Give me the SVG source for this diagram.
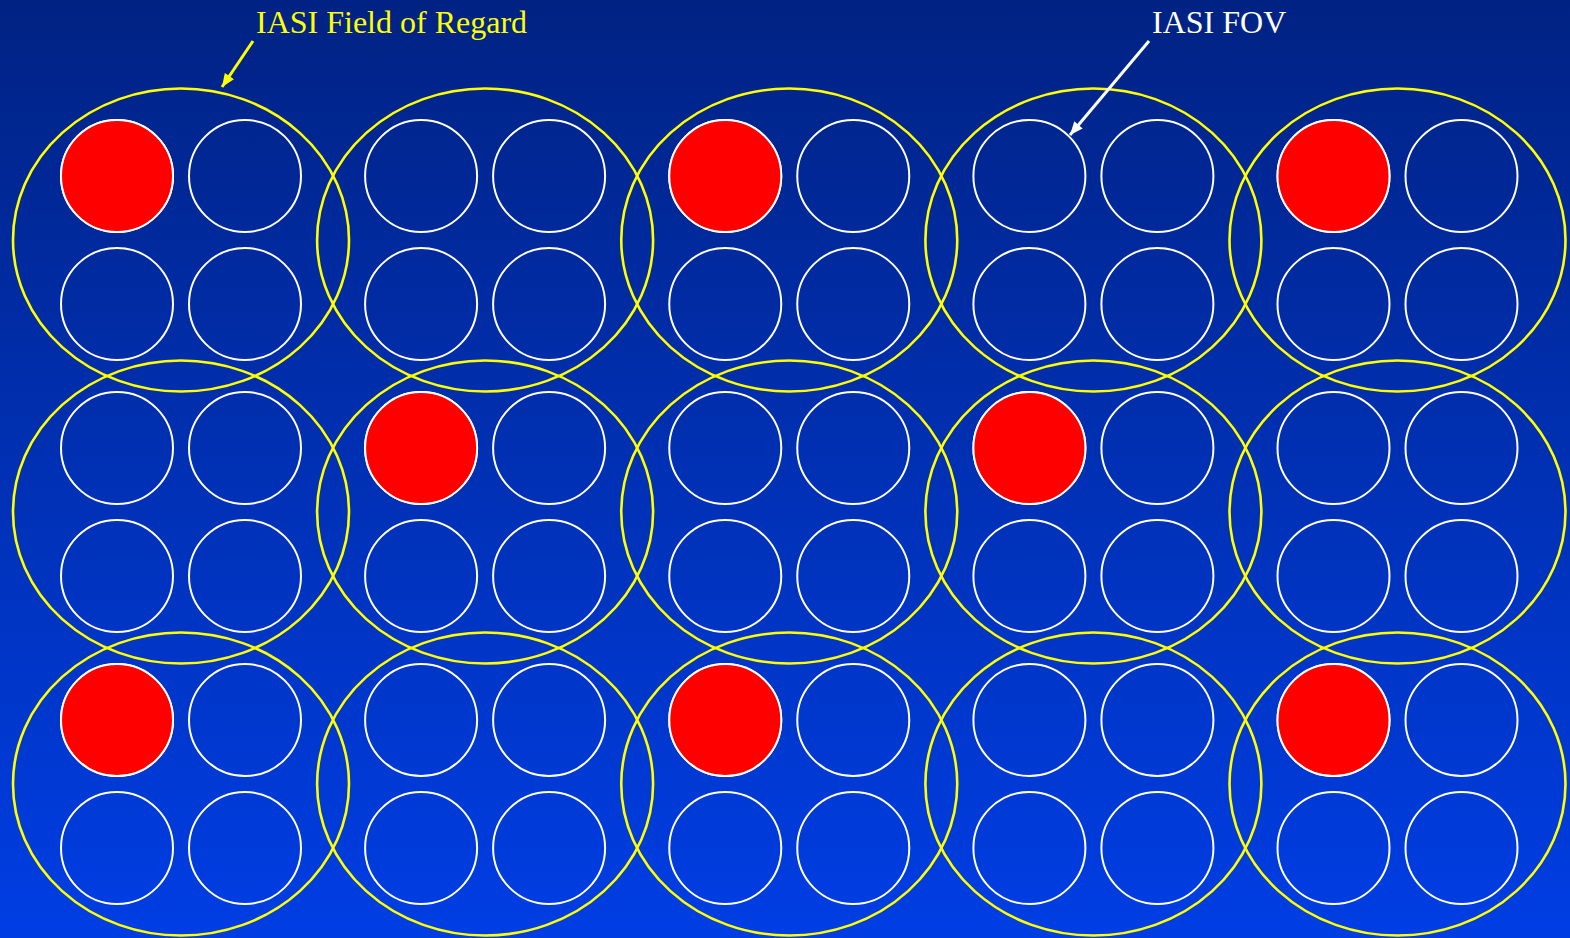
<svg xmlns="http://www.w3.org/2000/svg" width="1570" height="938" viewBox="0 0 1570 938">
<defs>
<linearGradient id="bg" x1="0" y1="0" x2="0" y2="1">
<stop offset="0" stop-color="#002283"/>
<stop offset="1" stop-color="#003EE4"/>
</linearGradient>
<marker id="ay" viewBox="0 0 12 10" refX="12" refY="5" markerWidth="14" markerHeight="11" markerUnits="userSpaceOnUse" orient="auto"><path d="M0,0 L12,5 L0,10 z" fill="#FFFF00"/></marker>
<marker id="aw" viewBox="0 0 12 10" refX="12" refY="5" markerWidth="14" markerHeight="11" markerUnits="userSpaceOnUse" orient="auto"><path d="M0,0 L12,5 L0,10 z" fill="#FFFFFF"/></marker>
<g id="cell">
<ellipse cx="0" cy="0" rx="168" ry="151.5" class="for"/>
<circle cx="-64" cy="-64" r="56" class="fov"/>
<circle cx="64" cy="-64" r="56" class="fov"/>
<circle cx="-64" cy="64" r="56" class="fov"/>
<circle cx="64" cy="64" r="56" class="fov"/>
</g>
</defs>
<style>
.for{fill:none;stroke:#FFFF00;stroke-width:2.6}
.fov{fill:none;stroke:#FFFFFF;stroke-width:2}
.red{fill:#FF0000;stroke:#FFFFFF;stroke-width:2}
.lbl{font-family:"Liberation Serif","Times New Roman",serif;font-size:32px}
</style>
<rect x="0" y="0" width="1570" height="938" fill="url(#bg)"/>
<g id="r0c0" transform="translate(181,240)"><use href="#cell"/><circle class="red" cx="-64" cy="-64" r="56"/></g>
<g id="r0c1" transform="translate(485.1,240)"><use href="#cell"/></g>
<g id="r0c2" transform="translate(789.25,240)"><use href="#cell"/><circle class="red" cx="-64" cy="-64" r="56"/></g>
<g id="r0c3" transform="translate(1093.4,240)"><use href="#cell"/></g>
<g id="r0c4" transform="translate(1397.5,240)"><use href="#cell"/><circle class="red" cx="-64" cy="-64" r="56"/></g>
<g id="r1c0" transform="translate(181,512)"><use href="#cell"/></g>
<g id="r1c1" transform="translate(485.1,512)"><use href="#cell"/><circle class="red" cx="-64" cy="-64" r="56"/></g>
<g id="r1c2" transform="translate(789.25,512)"><use href="#cell"/></g>
<g id="r1c3" transform="translate(1093.4,512)"><use href="#cell"/><circle class="red" cx="-64" cy="-64" r="56"/></g>
<g id="r1c4" transform="translate(1397.5,512)"><use href="#cell"/></g>
<g id="r2c0" transform="translate(181,784)"><use href="#cell"/><circle class="red" cx="-64" cy="-64" r="56"/></g>
<g id="r2c1" transform="translate(485.1,784)"><use href="#cell"/></g>
<g id="r2c2" transform="translate(789.25,784)"><use href="#cell"/><circle class="red" cx="-64" cy="-64" r="56"/></g>
<g id="r2c3" transform="translate(1093.4,784)"><use href="#cell"/></g>
<g id="r2c4" transform="translate(1397.5,784)"><use href="#cell"/><circle class="red" cx="-64" cy="-64" r="56"/></g>
<g id="label-for"><text class="lbl" x="256" y="33" fill="#FFFF00">IASI Field of Regard</text></g>
<g id="label-fov"><text class="lbl" x="1152" y="33" fill="#FFFFFF">IASI FOV</text></g>
<g id="connectors">
<line x1="253" y1="41" x2="222" y2="87" stroke="#FFFF00" stroke-width="3" marker-end="url(#ay)"/>
<line x1="1149" y1="41" x2="1070" y2="135" stroke="#FFFFFF" stroke-width="3" marker-end="url(#aw)"/>
</g>
</svg>
